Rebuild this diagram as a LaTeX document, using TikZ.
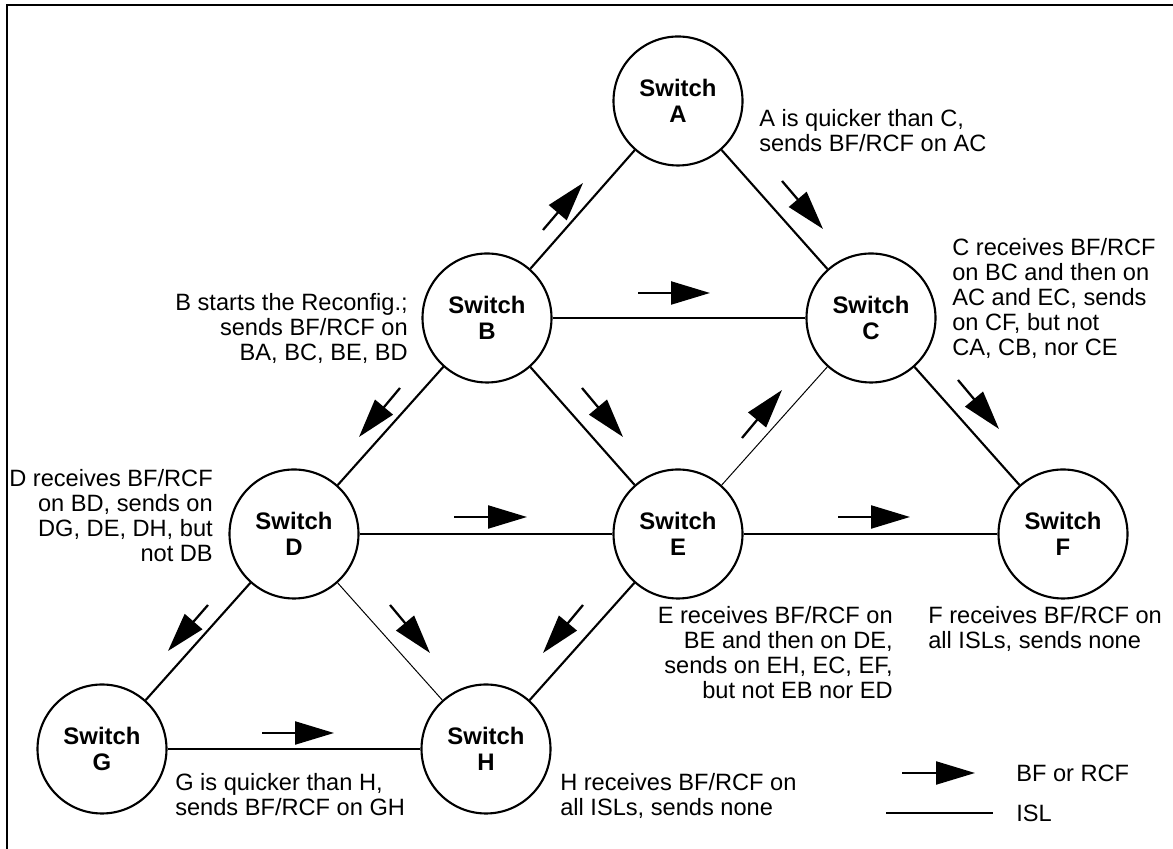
\documentclass[tikz,border=0pt]{standalone}
\usepackage{fontspec}
\setmainfont{Liberation Sans}
\usetikzlibrary{arrows.meta}

\begin{document}
\begin{tikzpicture}
  [
    every node/.style={font=\fontsize{16.8}{17.8}\selectfont},
    switch/.style={circle, draw=black, line width=1.5pt, minimum size=3.225cm,
      inner sep=0pt, align=center, font=\fontsize{17}{18.3}\selectfont\bfseries},
    note/.style={inner sep=0pt},
    isl/.style={draw=black, line width=1.5pt},
    thinisl/.style={draw=black, line width=0.7pt},
    bf/.style={draw=black, line width=1.6pt,
      -{Triangle[length=0.975cm, width=0.575cm]}}
  ]
  \useasboundingbox (0,0) rectangle (29.325,21.225);
  \draw [line width=1.4pt] (0.175,0) -- (0.175,21.1) -- (29.325,21.1);

  \node (swA) at (16.95,18.7)    [switch] {Switch\\A};
  \node (swB) at (12.175,13.275) [switch] {Switch\\B};
  \node (swC) at (21.775,13.275) [switch] {Switch\\C};
  \node (swD) at (7.35,7.875)    [switch] {Switch\\D};
  \node (swE) at (16.95,7.875)   [switch] {Switch\\E};
  \node (swF) at (26.575,7.875)  [switch] {Switch\\F};
  \node (swG) at (2.55,2.5)      [switch] {Switch\\G};
  \node (swH) at (12.15,2.5)     [switch] {Switch\\H};

  \draw [isl]    (swB) -- (swA);
  \draw [isl]    (swA) -- (swC);
  \draw [isl]    (swB) -- (swC);
  \draw [isl]    (swB) -- (swD);
  \draw [isl]    (swB) -- (swE);
  \draw [thinisl] (swE) -- (swC);
  \draw [isl]    (swC) -- (swF);
  \draw [isl]    (swD) -- (swE);
  \draw [isl]    (swE) -- (swF);
  \draw [isl]    (swD) -- (swG);
  \draw [thinisl] (swD) -- (swH);
  \draw [isl]    (swE) -- (swH);
  \draw [isl]    (swG) -- (swH);

  \draw [bf] (13.575,15.475) -- (14.575,16.65);
  \draw [bf] (19.55,16.7)    -- (20.575,15.5);
  \draw [bf] (15.95,13.9)    -- (17.75,13.9);
  \draw [bf] (10.0,11.525)   -- (8.975,10.3);
  \draw [bf] (14.55,11.525)  -- (15.575,10.3);
  \draw [bf] (18.55,10.275)  -- (19.55,11.475);
  \draw [bf] (23.95,11.725)  -- (24.975,10.5);
  \draw [bf] (11.35,8.3)     -- (13.175,8.3);
  \draw [bf] (20.95,8.3)     -- (22.75,8.3);
  \draw [bf] (5.2,6.1)       -- (4.2,4.95);
  \draw [bf] (9.75,6.1)      -- (10.75,4.9);
  \draw [bf] (14.575,6.1)    -- (13.575,4.9);
  \draw [bf] (6.55,2.9)      -- (8.35,2.9);

  \node (labelA) at (18.975,18.5) [note, anchor=north west, align=left]
    {A is quicker than C,\\sends BF/RCF on AC};
  \node (labelB) at (10.2,13.9) [note, anchor=north east, align=right]
    {B starts the Reconfig.;\\sends BF/RCF on\\BA, BC, BE, BD};
  \node (labelC) at (23.8,15.275) [note, anchor=north west, align=left]
    {C receives BF/RCF\\on BC and then on\\AC and EC, sends\\on CF, but not\\CA, CB, nor CE};
  \node (labelD) at (5.325,9.5) [note, anchor=north east, align=right]
    {D receives BF/RCF\\on BD, sends on\\DG, DE, DH, but\\not DB};
  \node (labelE) at (22.325,6.075) [note, anchor=north east, align=right]
    {E receives BF/RCF on\\BE and then on DE,\\sends on EH, EC, EF,\\but not EB nor ED};
  \node (labelF) at (23.2,6.075) [note, anchor=north west, align=left]
    {F receives BF/RCF on\\all ISLs, sends none};
  \node (labelG) at (4.375,1.9) [note, anchor=north west, align=left]
    {G is quicker than H,\\sends BF/RCF on GH};
  \node (labelH) at (14.0,1.9) [note, anchor=north west, align=left]
    {H receives BF/RCF on\\all ISLs, sends none};

  \node (keyBF)  at (25.4,1.9) [note, anchor=west] {BF or RCF};
  \node (keyISL) at (25.4,0.9) [note, anchor=west] {ISL};
  \draw [bf]  ([xshift=-2.85cm]keyBF.west) -- ([xshift=-1.025cm]keyBF.west);
  \draw [isl] ([xshift=-3.25cm]keyISL.west) -- ([xshift=-0.575cm]keyISL.west);
\end{tikzpicture}
\end{document}
